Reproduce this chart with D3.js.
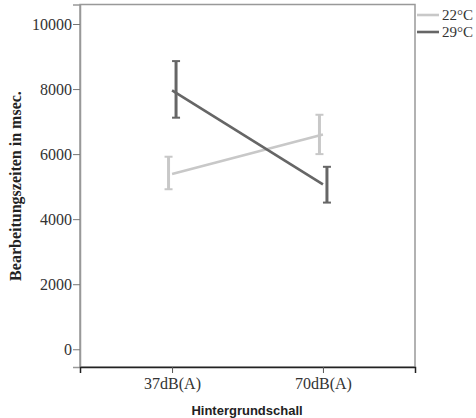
<!DOCTYPE html>
<html>
<head>
<meta charset="utf-8">
<script src="https://cdn.jsdelivr.net/npm/d3@7"></script>
<style>
  body { margin: 0; background: #fff; }
</style>
</head>
<body>
<div id="chart"></div>
<script>
// values
const levels = ["37dB(A)", "70dB(A)"]
const groups = ["22°C", "29°C"]
const means = { "22°C": [5390, 6600], "29°C": [7960, 5070] }
const lower = { "22°C": [4920, 6000], "29°C": [7120, 4510] }
const upper = { "22°C": [5920, 7210], "29°C": [8860, 5610] }
const yTicks = [0, 2000, 4000, 6000, 8000, 10000]

const W = 476, H = 418
const margin = { top: 4.5, right: 61, bottom: 51, left: 80 }
const width = W - margin.left - margin.right,
      height = H - margin.top - margin.bottom

const color = d3.scaleOrdinal().domain(groups).range(["#c8c8c8", "#666666"])
const offset = d3.scaleOrdinal().domain(groups).range([-3.5, 4])

const svg = d3.select("#chart").append("svg")
    .attr("width", W).attr("height", H)
    .style("font-family", "'Liberation Serif', 'Times New Roman', serif")

const g = svg.append("g").attr("transform", `translate(${margin.left},${margin.top})`)

const x = d3.scalePoint().domain(levels).range([0, width]).padding(0.61)
const y = d3.scaleLinear().domain([-545, 10600]).range([height, 0])

// frame
g.append("rect")
    .attr("x", 0).attr("y", 0).attr("width", width).attr("height", height)
    .attr("fill", "none").attr("stroke", "#999").attr("stroke-width", 1.5)

// y axis
const yAxis = g.append("g")
    .call(d3.axisLeft(y).tickValues(yTicks).tickSize(7).tickPadding(1).tickFormat(d3.format("d")))
yAxis.select(".domain").attr("stroke", "#999").attr("stroke-width", 1.5)
yAxis.selectAll(".tick line").attr("stroke", "#777")
yAxis.selectAll("text").attr("fill", "#333").style("font-size", "16px")
    .style("font-family", "'Liberation Serif', serif")

// x axis
const xAxis = g.append("g").attr("transform", `translate(0,${height})`)
    .call(d3.axisBottom(x).tickSize(6).tickPadding(5))
xAxis.select(".domain").attr("stroke", "#222").attr("stroke-width", 1.5)
xAxis.selectAll(".tick line").attr("stroke", "#555")
xAxis.selectAll("text").attr("fill", "#333").style("font-size", "16px")
    .style("font-family", "'Liberation Serif', serif")

// lines
const line = d3.line()
    .x((d, i) => x(levels[i]))
    .y(d => y(d))

groups.forEach(k => {
    g.append("path")
        .datum(means[k])
        .attr("d", line)
        .attr("fill", "none")
        .attr("stroke", color(k))
        .attr("stroke-width", 2.6)

    const bars = levels.map((lv, i) => ({ lv, lo: lower[k][i], hi: upper[k][i] }))
    const eb = g.selectAll(null).data(bars).join("g")
        .attr("transform", d => `translate(${x(d.lv) + offset(k)},0)`)
        .attr("stroke", color(k))
    eb.append("line")
        .attr("y1", d => y(d.lo)).attr("y2", d => y(d.hi))
        .attr("stroke-width", 3)
    eb.append("line")
        .attr("x1", -4).attr("x2", 4)
        .attr("y1", d => y(d.hi)).attr("y2", d => y(d.hi))
        .attr("stroke-width", 2)
    eb.append("line")
        .attr("x1", -4).attr("x2", 4)
        .attr("y1", d => y(d.lo)).attr("y2", d => y(d.lo))
        .attr("stroke-width", 2)
})

// legend
const legend = svg.append("g").attr("transform", `translate(${margin.left + width + 2},0)`)
const item = legend.selectAll("g").data(groups).join("g")
    .attr("transform", (d, i) => `translate(0,${15 + i * 17})`)
item.append("line")
    .attr("x1", 0).attr("x2", 22)
    .attr("stroke", d => color(d)).attr("stroke-width", 2.6)
item.append("text")
    .attr("x", 25).attr("dy", "0.35em")
    .attr("fill", "#333").style("font-size", "15px")
    .text(d => d)

// axis titles
svg.append("text")
    .attr("transform", `translate(21,186) rotate(-90)`)
    .attr("text-anchor", "middle")
    .style("font-weight", "bold").style("font-size", "16px")
    .attr("fill", "#222")
    .text("Bearbeitungszeiten in msec.")

svg.append("text")
    .attr("x", 247).attr("y", 415)
    .attr("text-anchor", "middle")
    .style("font-family", "'Liberation Sans', Arial, sans-serif")
    .style("font-weight", "bold").style("font-size", "13px")
    .attr("fill", "#222")
    .text("Hintergrundschall")
</script>
</body>
</html>
